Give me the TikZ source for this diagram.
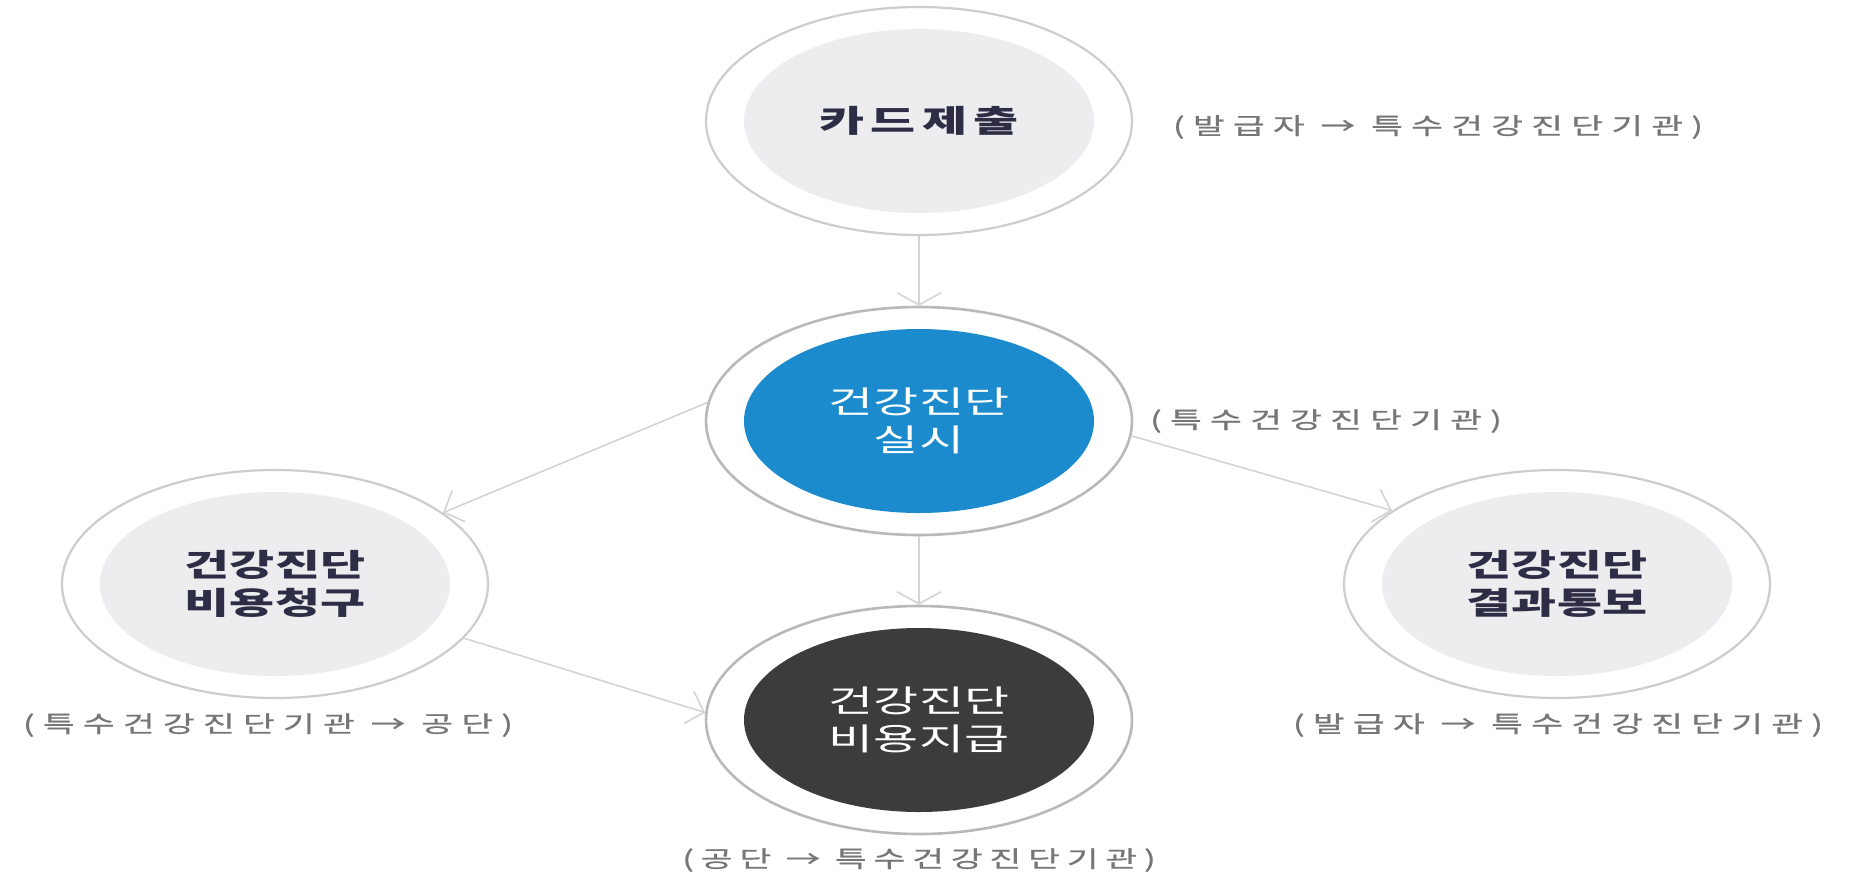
\documentclass[tikz,border=0pt]{standalone}
\usepackage{fontspec}
\setmainfont[FakeStretch=1.58]{Noto Sans CJK KR}
\newfontfamily\labfont[LetterSpace=24,FakeBold=0.6]{Noto Sans CJK KR}
\newfontfamily\labtightfont[LetterSpace=20,FakeBold=0.6]{Noto Sans CJK KR}
\newfontfamily\cardfont[FakeStretch=1.58,LetterSpace=20]{Noto Sans CJK KR}
\usetikzlibrary{shapes.geometric,arrows.meta}
\definecolor{ringgray}{RGB}{205,205,205}
\definecolor{ringdark}{RGB}{185,185,185}
\definecolor{innergray}{RGB}{237,237,239}
\definecolor{midblue}{RGB}{28,139,205}
\definecolor{paydark}{RGB}{60,60,60}
\definecolor{navytext}{RGB}{45,45,70}
\definecolor{labgray}{RGB}{118,118,118}
\definecolor{conngray}{RGB}{212,212,212}
\begin{document}
\begin{tikzpicture}[x=1pt,y=-1pt,
  ring/.style={ellipse, draw=ringgray, line width=2.2pt, fill=white,
    minimum width=426pt, minimum height=228pt, inner sep=0pt},
  ringc/.style={ring, draw=ringdark, line width=2.6pt},
  core/.style={ellipse, minimum width=350pt, minimum height=184pt, inner sep=0pt,
    align=center, font=\fontsize{31}{38}\selectfont},
  graycore/.style={core, fill=innergray, text=navytext, font=\fontsize{31}{38}\selectfont\bfseries},
  bluecore/.style={core, fill=midblue, text=white},
  darkcore/.style={core, fill=paydark, text=white},
  lab/.style={text=labgray, font=\labfont\fontsize{23}{27}\selectfont, inner sep=0pt, xscale=1.5},
  labtight/.style={lab, font=\labtightfont\fontsize{23}{27}\selectfont},
  conn/.style={draw=conngray, line width=1.6pt},
  vbarb/.style={-{Straight Barb[length=12pt,width=44pt,line width=1.6pt]}},
  dbarb/.style={-{Straight Barb[length=16pt,width=34pt,line width=1.6pt]}}
]
\fill[white] (0,0) rectangle (1860,879);
\useasboundingbox (0,0) rectangle (1860,879);

% outer rings
\node[ring]  (card)  at (919,121) {};
\node[ringc] (mid)   at (919,421) {};
\node[ring]  (left)  at (275,584) {};
\node[ring]  (right) at (1557,584) {};
\node[ringc] (pay)   at (919,720) {};

% inner discs with text
\node[graycore] (cardin)  at (card.center)  {\cardfont 카드제출};
\node[bluecore] (midin)   at (mid.center)   {건강진단\\실시};
\node[graycore] (leftin)  at (left.center)  {건강진단\\비용청구};
\node[graycore] (rightin) at (right.center) {건강진단\\결과통보};
\node[darkcore] (payin)   at (pay.center)   {건강진단\\비용지급};

% connectors
\draw[conn, vbarb] (card.south) -- (mid.north);
\draw[conn, dbarb] (mid.175) -- (left.23);
\draw[conn, dbarb] (mid.-4) -- (right.156);
\draw[conn, vbarb] (mid.south) -- (pay.north);
\draw[conn, dbarb] (left.-16) -- (pay.178);

% labels
\node[lab] (cardlab)  at (1438,127) {(발급자 → 특수건강진단기관)};
\node[lab] (midlab)   at (1326,421) {(특수건강진단기관)};
\node[lab] (leftlab)  at (268,725)  {(특수건강진단기관 → 공단)};
\node[lab] (rightlab) at (1558,725) {(발급자 → 특수건강진단기관)};
\node[labtight] (paylab) at (919,860) {(공단 → 특수건강진단기관)};
\end{tikzpicture}
\end{document}
